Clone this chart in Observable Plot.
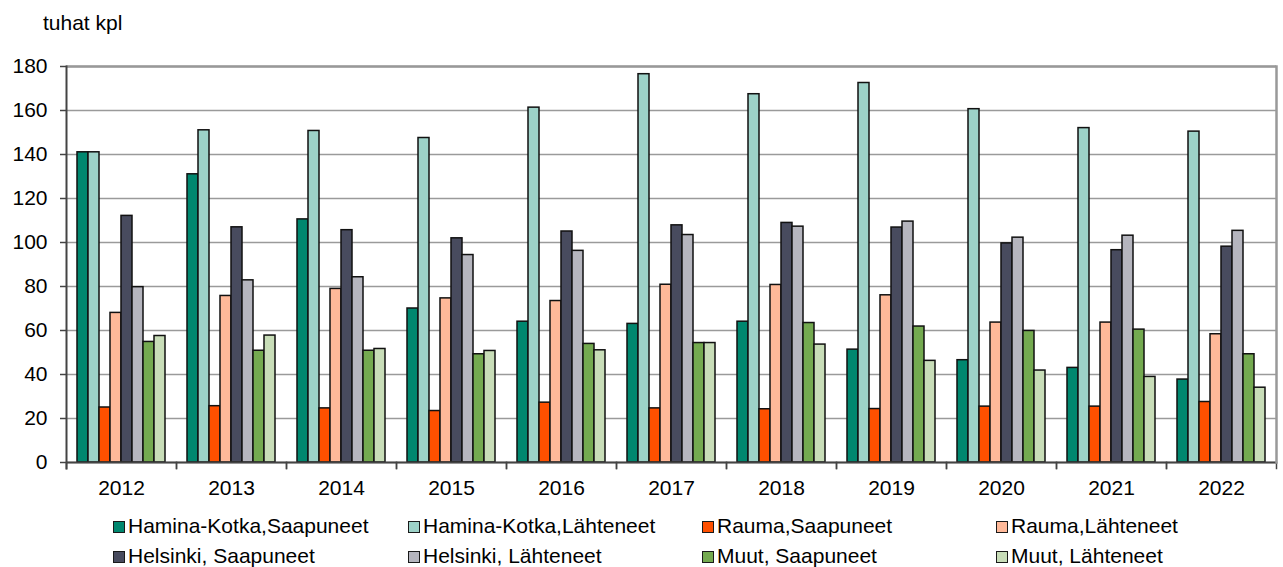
<!DOCTYPE html>
<html>
<head>
<meta charset="utf-8">
<script src="https://cdn.jsdelivr.net/npm/d3@7"></script>
<script src="https://cdn.jsdelivr.net/npm/@observablehq/plot@0.6"></script>
<style>
  html, body { margin: 0; padding: 0; background: #fff; }
  #wrap { position: relative; width: 1283px; height: 567px; font-family: Arial, "Liberation Sans", sans-serif; color: #000; overflow: hidden; }
  #title { position: absolute; left: 43px; top: 12px; font-size: 21px; line-height: 21px; }
  #chart { position: absolute; left: 0; top: 0; }
  #legend { position: absolute; left: 113px; top: 511px; display: grid; grid-template-columns: 295px 294px 294px 280px; font-size: 21px; }
  .item { height: 30px; line-height: 30px; white-space: nowrap; }
  .sw { display: inline-block; width: 10px; height: 10px; border: 1.5px solid #1a1a1a; margin-right: 3px; vertical-align: baseline; }
</style>
</head>
<body>
<div id="wrap">
  <div id="chart"></div>
  <div id="title">tuhat kpl</div>
  <div id="legend"></div>
</div>
<script>
const years = [2012, 2013, 2014, 2015, 2016, 2017, 2018, 2019, 2020, 2021, 2022];
const seriesNames = [
  "Hamina-Kotka,Saapuneet", "Hamina-Kotka,Lähteneet",
  "Rauma,Saapuneet", "Rauma,Lähteneet",
  "Helsinki, Saapuneet", "Helsinki, Lähteneet",
  "Muut, Saapuneet", "Muut, Lähteneet"
];
const seriesColors = ["#00876f", "#9dd2c8", "#ff5000", "#ffb999", "#484b5e", "#b5b5be", "#74aa50", "#c8ddb8"];
const yTicks = [0, 20, 40, 60, 80, 100, 120, 140, 160, 180];

const haminaKotkaSaapuneet = [141, 131, 110.5, 70, 64, 63, 64, 51.3, 46.5, 43, 37.7];
const haminaKotkaLahteneet = [141, 151, 150.7, 147.5, 161.3, 176.5, 167.4, 172.5, 160.6, 152, 150.4];
const raumaSaapuneet = [25, 25.6, 24.6, 23.4, 27.2, 24.6, 24.2, 24.3, 25.4, 25.4, 27.5];
const raumaLahteneet = [68, 75.7, 78.9, 74.6, 73.4, 80.8, 80.7, 76, 63.6, 63.6, 58.3];
const helsinkiSaapuneet = [112.1, 106.9, 105.6, 101.9, 105, 107.8, 108.9, 106.8, 99.6, 96.5, 98.1];
const helsinkiLahteneet = [79.7, 82.8, 84.2, 94.3, 96.2, 103.4, 107.2, 109.5, 102.2, 103.1, 105.3];
const muutSaapuneet = [54.8, 50.8, 50.8, 49.2, 53.9, 54.3, 63.4, 61.8, 59.8, 60.4, 49.2];
const muutLahteneet = [57.5, 57.7, 51.6, 50.7, 51, 54.3, 53.6, 46.2, 41.8, 38.9, 34];

const seriesValues = [
  haminaKotkaSaapuneet, haminaKotkaLahteneet,
  raumaSaapuneet, raumaLahteneet,
  helsinkiSaapuneet, helsinkiLahteneet,
  muutSaapuneet, muutLahteneet
];

const table = [];
years.forEach((yr, i) => {
  seriesNames.forEach((s, j) => {
    table.push({year: yr, series: s, value: seriesValues[j][i]});
  });
});

const W = 1283, H = 505, MT = 66, MB = 43, ML = 63, MR = 5;
const plotH = H - MT - MB;

const chart = Plot.plot({
  width: W,
  height: H,
  marginTop: MT,
  marginBottom: MB,
  marginLeft: ML,
  marginRight: MR,
  style: {fontFamily: "Arial, 'Liberation Sans', sans-serif", fontSize: "21px", color: "#000", background: "#fff", overflow: "visible"},
  fx: {domain: years, padding: 0, label: null},
  x: {domain: seriesNames, paddingInner: 0, paddingOuter: 0.74, axis: null},
  y: {domain: [0, 180], label: null},
  color: {domain: seriesNames, range: seriesColors},
  marks: [
    Plot.gridY(yTicks, {stroke: "#9a9a9a", strokeOpacity: 1, strokeWidth: 1.3}),
    Plot.ruleY([180], {stroke: "#999", strokeWidth: 2.5}),
    Plot.barY(table, {fx: "year", x: "series", y: "value", fill: "series", stroke: "#111", strokeWidth: 1.5}),
    Plot.ruleY([0], {stroke: "#444", strokeWidth: 2}),
    Plot.frame({anchor: "left", stroke: "#444", strokeWidth: 1.5, insetTop: plotH, insetBottom: -6}),
    Plot.frame({anchor: "right", stroke: "#444", strokeWidth: 1.5, insetTop: plotH, insetBottom: -6}),
    Plot.frame({anchor: "left", stroke: "#444", strokeWidth: 2, insetBottom: -6, fx: [years[0]]}),
    Plot.frame({anchor: "right", stroke: "#999", strokeWidth: 2.5, fx: [years[years.length - 1]]}),
    Plot.axisY(yTicks, {tickSize: 6, tickPadding: 13, stroke: "#444", strokeWidth: 1.5, label: null, fontSize: 21}),
    Plot.axisFx({anchor: "bottom", tickSize: 0, tickPadding: 18, label: null, fontSize: 21, tickFormat: d => String(d)})
  ]
});
document.getElementById("chart").appendChild(chart);

const legend = document.getElementById("legend");
seriesNames.forEach((name, j) => {
  const it = document.createElement("div");
  it.className = "item";
  const sw = document.createElement("span");
  sw.className = "sw";
  sw.style.background = seriesColors[j];
  it.appendChild(sw);
  it.appendChild(document.createTextNode(name));
  legend.appendChild(it);
});
</script>
</body>
</html>
